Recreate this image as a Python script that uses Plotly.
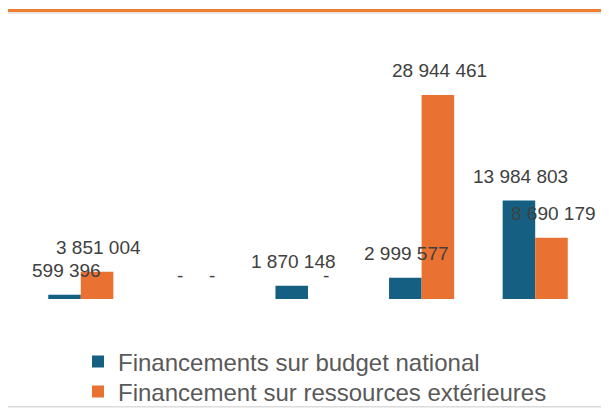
import plotly.graph_objects as go

categories = ["C1", "C2", "C3", "C4", "C5"]
budget_national = [599396, 0, 1870148, 2999577, 13984803]
ressources_ext = [3851004, 0, 0, 28944461, 8690179]
series_names = ["Financements sur budget national", "Financement sur ressources extérieures"]
colors = ["#156082", "#E97132"]

# page body adds an 8px offset; layout below is expressed in figure pixels
OFF = 8
W, H = 609, 408
L, R, T, B = 16, 25, 0, 0
PW, PH = W - L - R, H - T - B
BASE = 299 - OFF          # baseline pixel (figure coords)
PX_PER_UNIT = 7.05e-6     # pixels per value unit
YMAX = (BASE - T) / PX_PER_UNIT
YMIN = -(H - B - BASE) / PX_PER_UNIT


def px_x(ax):
    return (ax - OFF - L) / PW


def px_y(ay):
    return (H - B - (ay - OFF)) / PH


def fmt(v):
    if v == 0:
        return "-"
    return f"{v:,}".replace(",", " ")


fig = go.Figure()
legends = ["legend", "legend2"]
for name, vals, col, lg in zip(series_names, [budget_national, ressources_ext], colors, legends):
    fig.add_trace(go.Bar(x=categories, y=vals, name=name, legend=lg,
                         marker=dict(color=col, line=dict(width=0))))

annotations = []
for shift, vals in zip([-16.3, 16.3], [budget_national, ressources_ext]):
    for c, v in zip(categories, vals):
        annotations.append(dict(
            x=c, y=v, xref="x", yref="y", text=fmt(v), showarrow=False,
            xshift=shift + 1.5, yshift=24, yanchor="middle", xanchor="center",
            font=dict(family="Liberation Sans, Arial, sans-serif", size=19, color="#404040"),
        ))

shapes = [
    dict(type="rect", xref="paper", yref="paper", x0=px_x(0), x1=px_x(640), y0=px_y(12.3), y1=px_y(9),
         fillcolor="#EE7E32", line=dict(width=0), layer="above"),
    dict(type="rect", xref="paper", yref="paper", x0=px_x(0), x1=px_x(640), y0=px_y(13.8), y1=px_y(12.3),
         fillcolor="#E3E3E3", line=dict(width=0)),
    dict(type="rect", xref="paper", yref="paper", x0=px_x(4), x1=px_x(640), y0=px_y(407.5), y1=px_y(406),
         fillcolor="#DCDCDC", line=dict(width=0)),
]

legend_font = dict(family="Liberation Sans, Arial, sans-serif", size=24, color="#595959")
leg_common = dict(xanchor="left", yanchor="middle", orientation="v",
                  bgcolor="rgba(0,0,0,0)", borderwidth=0, font=legend_font)

fig.update_layout(
    width=W, height=H,
    margin=dict(l=L, r=R, t=T, b=B, pad=0),
    paper_bgcolor="white", plot_bgcolor="white",
    barmode="group", bargap=0.427, bargroupgap=0,
    xaxis=dict(visible=False, showgrid=False, zeroline=False, range=[-0.5, len(categories) - 0.5]),
    yaxis=dict(visible=False, range=[YMIN, YMAX], showgrid=False, zeroline=False),
    showlegend=True,
    legend=dict(x=px_x(78), y=px_y(362), **leg_common),
    legend2=dict(x=px_x(78), y=px_y(392), **leg_common),
    annotations=annotations,
    shapes=shapes,
)

fig.write_html("out.html")
